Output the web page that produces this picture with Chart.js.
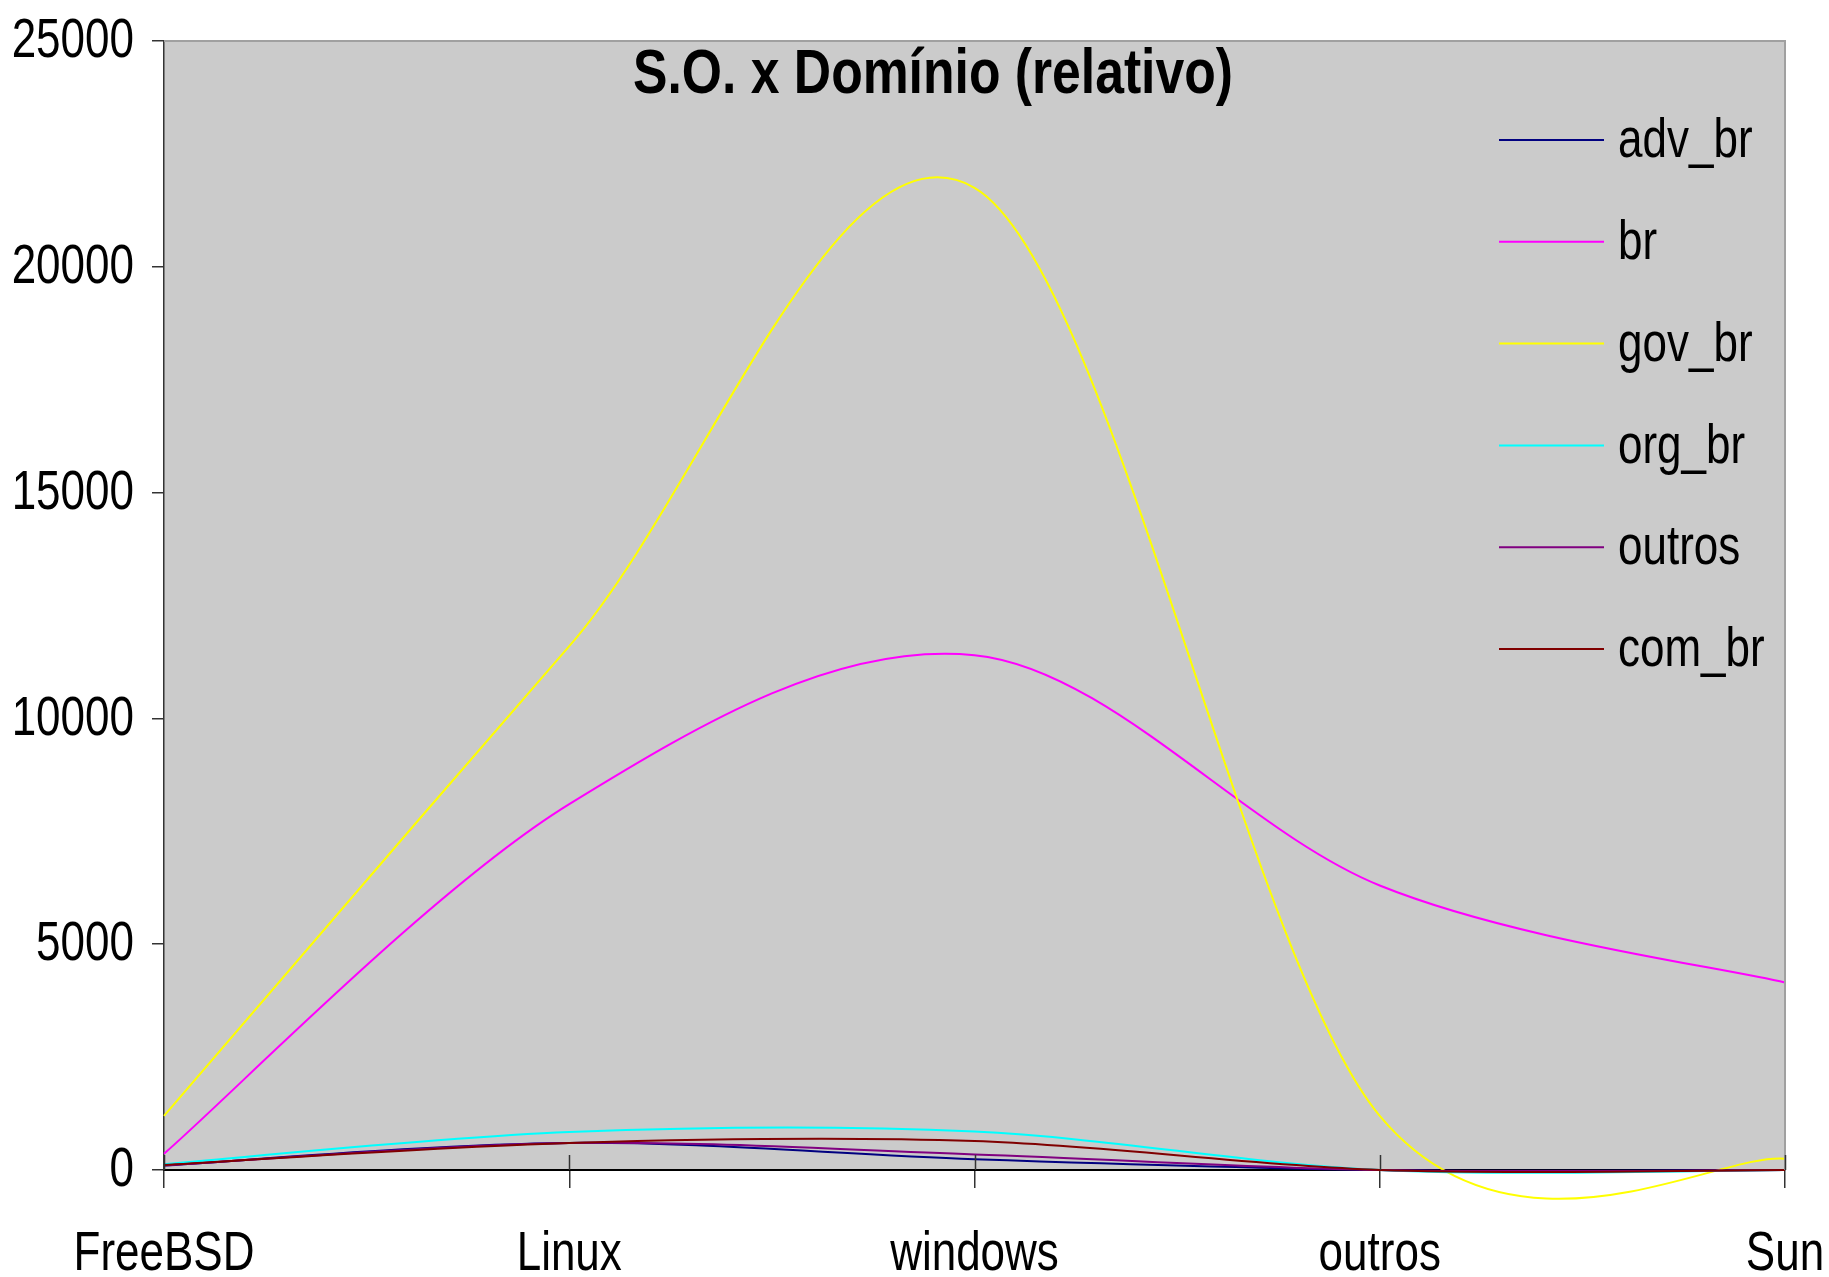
<!DOCTYPE html>
<html>
<head>
<meta charset="utf-8">
<script src="https://cdn.jsdelivr.net/npm/chart.js@4"></script>
<style>
  body { margin: 0; background: #ffffff; }
  #chart { display: block; }
</style>
</head>
<body>
<canvas id="chart" width="1829" height="1277"></canvas>
<script>
// Data
const categories = ['FreeBSD', 'Linux', 'windows', 'outros', 'Sun'];
const seriesNames = ['adv_br', 'br', 'gov_br', 'org_br', 'outros', 'com_br'];
const advBr = [100, 600, 240, 0, 0];
const br = [360, 8100, 11400, 6300, 4150];
const govBr = [1200, 11600, 21750, 1200, 250];
const orgBr = [130, 840, 850, 0, 0];
const outros = [100, 600, 345, 0, 0];
const comBr = [110, 600, 640, 0, 0];
const yTicks = [0, 5000, 10000, 15000, 20000, 25000];

const seriesColors = ['#000080', '#ff00ff', '#ffff00', '#00ffff', '#800080', '#800000'];
const FONT = "'Liberation Sans', Arial, sans-serif";

// no narrow font installed, so squeeze Liberation Sans horizontally
function narrowText(ctx, text, x, y, align, squeeze) {
    ctx.save();
    ctx.translate(x, y);
    ctx.scale(squeeze, 1);
    ctx.textAlign = align;
    ctx.fillText(text, 0, 0);
    ctx.restore();
}

// Excel style smoothing: Catmull-Rom control points (1/6 of neighbour difference)
const excelSmooth = {
    id: 'excelSmooth',
    beforeDatasetDraw(chart, args) {
        const pts = args.meta.data;
        for (let i = 0; i < pts.length; i++) {
            const p = pts[i];
            const prev = pts[i - 1] || p;
            const next = pts[i + 1] || p;
            const dx = (next.x - prev.x) / 6;
            const dy = (next.y - prev.y) / 6;
            p.cp1x = p.x - dx; p.cp1y = p.y - dy;
            p.cp2x = p.x + dx; p.cp2y = p.y + dy;
        }
        args.meta.dataset._pointsUpdated = true;
        delete args.meta.dataset._path;
    }
};

// Plot background, frame, tick labels, title and legend
const decorations = {
    id: 'decorations',
    beforeDraw(chart) {
        const { ctx, chartArea: a } = chart;
        ctx.save();
        ctx.fillStyle = '#ffffff';
        ctx.fillRect(0, 0, chart.width, chart.height);
        ctx.fillStyle = '#cbcbcb';
        ctx.fillRect(a.left, a.top, a.right - a.left, a.bottom - a.top);
        ctx.restore();
    },
    afterDraw(chart) {
        const { ctx, chartArea: a } = chart;
        const x = chart.scales.x;
        const y = chart.scales.y;
        ctx.save();
        // top / right frame
        ctx.strokeStyle = '#a0a0a0';
        ctx.lineWidth = 2;
        ctx.beginPath();
        ctx.moveTo(a.left, a.top);
        ctx.lineTo(a.right, a.top);
        ctx.lineTo(a.right, a.bottom);
        ctx.stroke();
        // inner half of the x tick marks
        ctx.strokeStyle = '#333333';
        ctx.lineWidth = 1.5;
        categories.forEach((c, i) => {
            const px = Math.round(x.getPixelForValue(i)) + 0.5;
            ctx.beginPath();
            ctx.moveTo(px, a.bottom - 15);
            ctx.lineTo(px, a.bottom);
            ctx.stroke();
        });
        // tick labels
        ctx.fillStyle = '#000000';
        ctx.font = '55px ' + FONT;
        ctx.textBaseline = 'middle';
        yTicks.forEach(v => narrowText(ctx, String(v), 134, y.getPixelForValue(v) + 1, 'right', 0.8));
        categories.forEach((c, i) => narrowText(ctx, c, x.getPixelForValue(i), 1255, 'center', 0.8));
        // title
        ctx.font = 'bold 63px ' + FONT;
        narrowText(ctx, 'S.O. x Domínio (relativo)', 933, 76, 'center', 0.82);
        // legend
        ctx.font = '55px ' + FONT;
        chart.data.datasets.forEach((ds, i) => {
            const ly = 140 + i * 101.8;
            ctx.strokeStyle = ds.borderColor;
            ctx.lineWidth = 2;
            ctx.beginPath();
            ctx.moveTo(1499, ly);
            ctx.lineTo(1604, ly);
            ctx.stroke();
            narrowText(ctx, ds.label, 1618, ly + 2, 'left', 0.8);
        });
        ctx.restore();
    }
};

const seriesData = [advBr, br, govBr, orgBr, outros, comBr];

new Chart(document.getElementById('chart').getContext('2d'), {
    type: 'line',
    data: {
        labels: categories,
        datasets: seriesNames.map((name, i) => ({
            label: name,
            data: seriesData[i],
            borderColor: seriesColors[i],
            backgroundColor: seriesColors[i],
            borderWidth: 2,
            pointRadius: 0,
            tension: 0.4,
            fill: false,
            clip: false,
            order: seriesNames.length - i
        }))
    },
    options: {
        responsive: false,
        devicePixelRatio: 1,
        animation: false,
        layout: { padding: { top: 41, right: 44, left: 0, bottom: 0 } },
        elements: { line: { capBezierPoints: false } },
        plugins: {
            legend: { display: false },
            title: { display: false },
            tooltip: { enabled: false }
        },
        scales: {
            x: {
                offset: false,
                grid: { drawOnChartArea: false, drawTicks: true, tickLength: 18, color: '#333333', lineWidth: 1.5 },
                border: { color: '#000000', width: 2 },
                ticks: { display: false, autoSkip: false, maxRotation: 0 },
                afterFit(scale) {
                    scale.height = 107;
                    scale.paddingLeft = 0;
                    scale.paddingRight = 0;
                }
            },
            y: {
                min: 0,
                max: 25000,
                afterBuildTicks(scale) {
                    scale.ticks = yTicks.map(v => ({ value: v }));
                },
                grid: { drawOnChartArea: false, drawTicks: true, tickLength: 12, color: '#333333', lineWidth: 1.5 },
                border: { color: '#333333', width: 1.5 },
                ticks: { display: false },
                afterFit(scale) {
                    scale.width = 164;
                    scale.paddingTop = 0;
                    scale.paddingBottom = 0;
                }
            }
        }
    },
    plugins: [excelSmooth, decorations]
});
</script>
</body>
</html>
